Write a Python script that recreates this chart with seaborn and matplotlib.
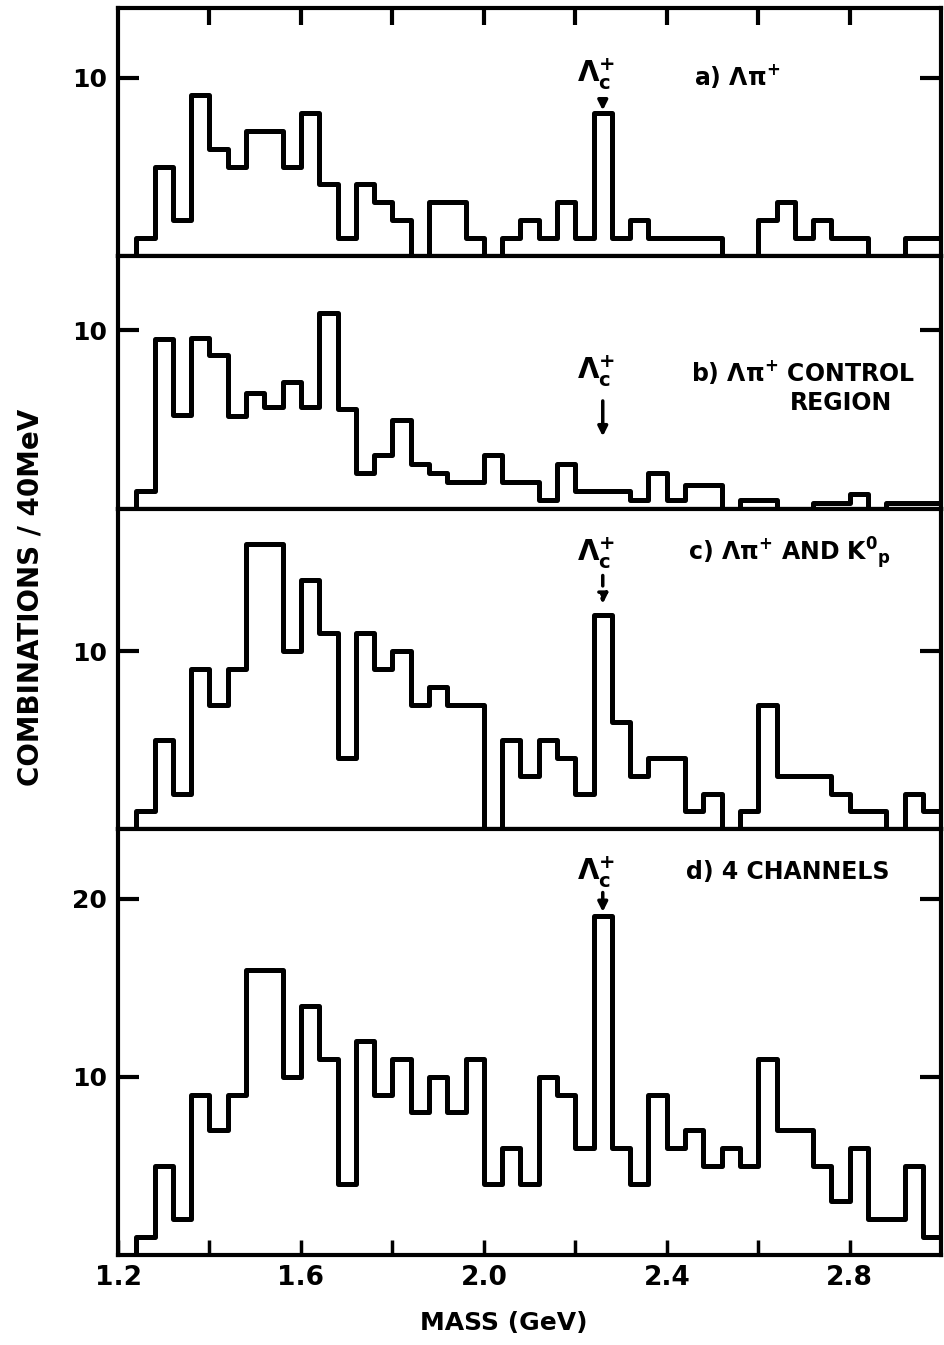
import numpy as np
import pandas as pd
import matplotlib
matplotlib.use('Agg')
import matplotlib.pyplot as plt
import seaborn as sns

# 40 MeV bins from 1.20 to 3.00 GeV; the first bin (1.20-1.24) is empty everywhere
bin_start = 1.20
bin_width = 0.04

# combinations per bin
counts_a = [0, 1, 5, 2, 9, 6, 5, 7, 7, 5, 8, 4, 1, 4, 3, 2, 0, 3, 3, 1, 0,
            1, 2, 1, 3, 1, 8, 1, 2, 1, 1, 1, 1, 0, 0, 2, 3, 1, 2, 1, 1, 0, 0, 1, 1]
counts_b = [0, 1, 9.5, 5.25, 9.6, 8.6, 5.2, 6.5, 5.7, 7.1, 5.7, 11, 5.6, 2, 3, 5,
            2.5, 2, 1.5, 1.5, 3, 1.5, 1.5, 0.5, 2.5, 1, 1, 1, 0.5, 2, 0.5,
            1.3, 1.3, 0, 0.5, 0.5, 0, 0, 0.3, 0.3, 0.8, 0, 0.3, 0.3, 0.3]
counts_c = [0, 1, 5, 2, 9, 7, 9, 16, 16, 10, 14, 11, 4, 11, 9, 10, 7, 8, 7, 7, 0,
            5, 3, 5, 4, 2, 12, 6, 3, 4, 4, 1, 2, 0, 1, 7, 3, 3, 3, 2, 1, 1, 0, 2, 1]
counts_d = [0, 1, 5, 2, 9, 7, 9, 16, 16, 10, 14, 11, 4, 12, 9, 11, 8, 10, 8, 11, 4,
            6, 4, 10, 9, 6, 19, 6, 4, 9, 6, 7, 5, 6, 5, 11, 7, 7, 5, 3, 6, 2, 2, 5, 1]

panel_counts = [counts_a, counts_b, counts_c, counts_d]
y_max = [13.9, 14.2, 18.0, 23.9]
y_ticks = [[10], [10], [10], [10, 20]]

x_major = [1.2, 1.6, 2.0, 2.4, 2.8]
x_minor = [1.4, 1.8, 2.2, 2.6]
x_top = [1.4, 1.6, 1.8, 2.0, 2.2, 2.4, 2.6, 2.8]

lambda_c_x = 2.26
# (text y, arrow tail y, arrow tip y) per panel
lambda_c_pos = [(10.2, 8.9, 8.0), (7.7, 6.2, 3.9), (15.5, 14.4, 12.5), (21.5, 20.5, 19.1)]

panel_text = [
    [(2.46, 10.1, r'a) $\Lambda\pi^{+}$')],
    [(2.452, 7.65, r'b) $\Lambda\pi^{+}$ CONTROL'), (2.67, 5.95, 'REGION')],
    [(2.447, 15.5, r'c) $\Lambda\pi^{+}$ AND $\mathrm{K}^{0}{}_{\mathrm{p}}$')],
    [(2.441, 21.5, 'd) 4 CHANNELS')],
]

sns.set_style("white")
sns.set_style("ticks")
plt.rcParams['font.family'] = ['DejaVu Sans']
plt.rcParams['font.weight'] = 'bold'
plt.rcParams['mathtext.fontset'] = 'dejavusans'
plt.rcParams['mathtext.default'] = 'bf'
for key in ['text.color', 'axes.edgecolor', 'axes.labelcolor', 'xtick.color', 'ytick.color']:
    plt.rcParams[key] = 'black'

n_bins = len(counts_a)
edges = list(bin_start + bin_width * np.arange(n_bins + 1))
centers = [e + bin_width / 2 for e in edges[:-1]]

fig = plt.figure(figsize=(9.44, 13.45), dpi=100)
gs = fig.add_gridspec(4, 1, height_ratios=y_max, hspace=0,
                      left=0.125, right=0.997, top=0.994, bottom=0.067)

for i, counts in enumerate(panel_counts):
    ax = fig.add_subplot(gs[i])
    df = pd.DataFrame({'Mass': centers, 'Combinations': counts})
    sns.histplot(data=df, x='Mass', weights='Combinations', bins=edges, element='step',
                 fill=False, color='black', linewidth=3.6, ax=ax)
    ax.set_xlim(edges[0], edges[-1])
    ax.set_ylim(0, y_max[i])
    ax.set_xlabel('')
    ax.set_ylabel('')
    for sp in ax.spines.values():
        sp.set_linewidth(3.0)
        sp.set_color('black')
        sp.set_visible(True)

    ax.set_yticks(y_ticks[i])
    ax.set_yticklabels([str(t) for t in y_ticks[i]])
    ax.tick_params(axis='y', which='major', direction='in', length=15, width=3,
                   left=True, right=True, labelleft=True, labelright=False,
                   labelsize=18, pad=8)
    ax.tick_params(axis='y', which='minor', left=False, right=False)

    if i == 0:
        ax.set_xticks(x_top)
        ax.tick_params(axis='x', which='major', direction='in', length=12, width=3,
                       top=True, bottom=False, labeltop=False, labelbottom=False)
    elif i == 3:
        ax.set_xticks(x_major)
        ax.set_xticks(x_minor, minor=True)
        ax.set_xticklabels(['1.2', '1.6', '2.0', '2.4', '2.8'])
        ax.tick_params(axis='x', which='both', direction='in', length=11, width=2.5,
                       top=False, bottom=True, labelsize=19, pad=7)
        ax.tick_params(axis='x', which='minor', labelbottom=False)
    else:
        ax.set_xticks([])

    ty, tail, tip = lambda_c_pos[i]
    ax.annotate('', xy=(lambda_c_x, tip), xytext=(lambda_c_x, tail),
                arrowprops=dict(arrowstyle='-|>', color='black', lw=2.5,
                                mutation_scale=14,
                                linestyle=(0, (3, 2)) if i == 2 else '-'))
    ax.text(lambda_c_x - 0.015, ty, r'$\Lambda_{c}^{+}$', ha='center', va='center',
            fontsize=20)

    for tx, tyy, s in panel_text[i]:
        ax.text(tx, tyy, s, ha='left', va='center', fontsize=17, fontweight='bold')

fig.text(0.032, 0.556, 'COMBINATIONS / 40MeV', rotation=90, ha='center', va='center',
         fontsize=20, fontweight='bold')
fig.text(0.534, 0.016, 'MASS (GeV)', ha='center', va='center', fontsize=18,
         fontweight='bold')

fig.savefig('out.png', dpi=100)
